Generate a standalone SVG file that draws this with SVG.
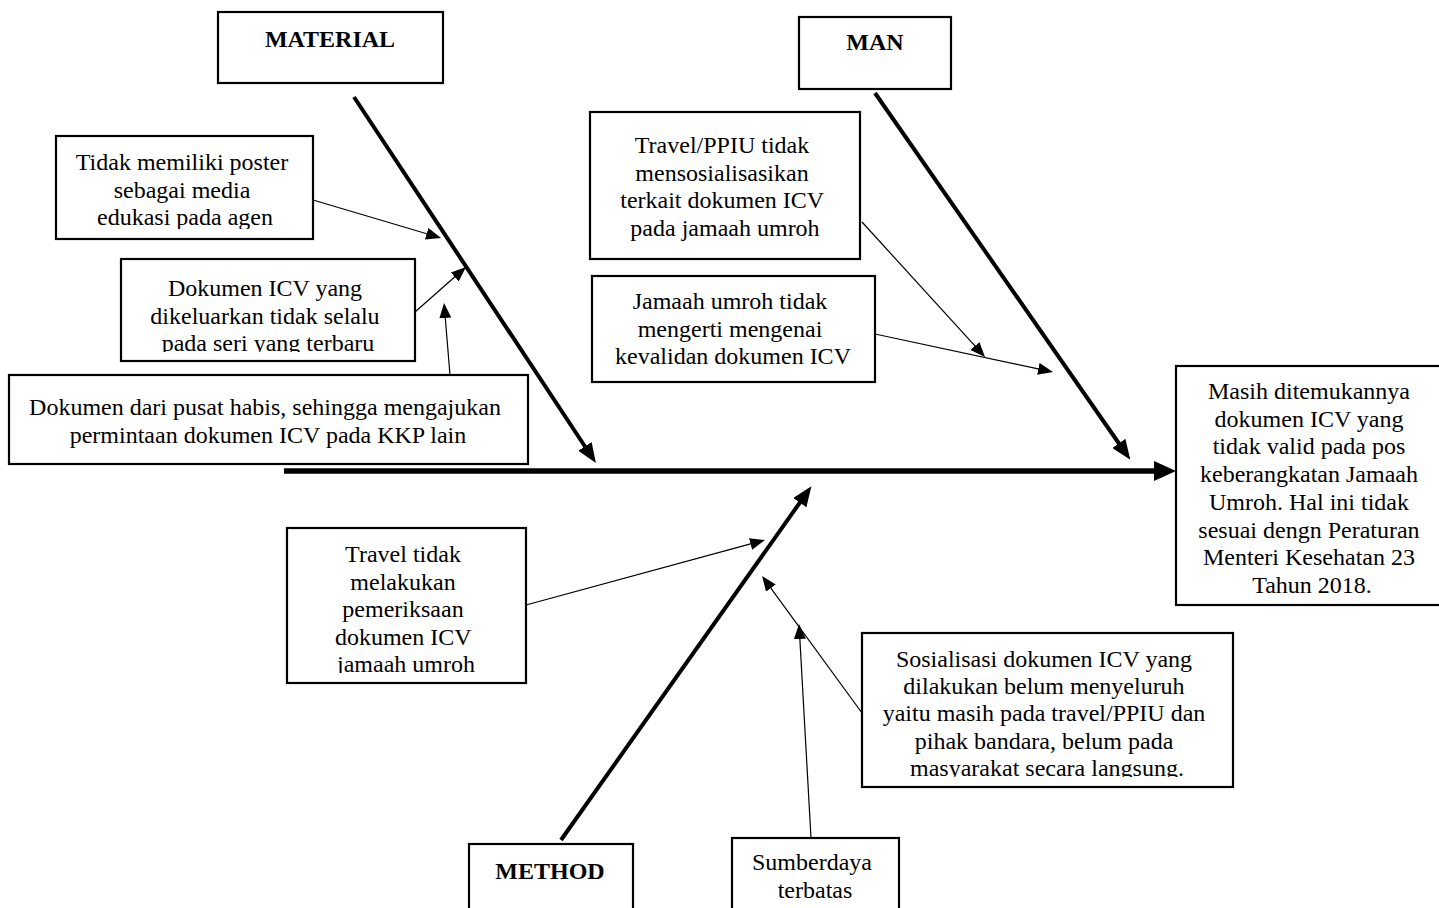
<svg xmlns="http://www.w3.org/2000/svg" width="1439" height="908" viewBox="0 0 1439 908">
  <style>
    .box { fill: #ffffff; stroke: #000000; stroke-width: 2.2; }
    .txt { font-family: "Liberation Serif", "Times New Roman", serif; font-size: 24px; fill: #000000; text-anchor: middle; }
    .head { font-weight: bold; }
    .bone { stroke: #000000; stroke-width: 4; fill: none; marker-end: url(#headBold); }
    .spine { stroke: #000000; stroke-width: 5.5; fill: none; marker-end: url(#headSpine); }
    .cause { stroke: #000000; stroke-width: 1.2; fill: none; marker-end: url(#headThin); }
  </style>
  <defs>
    <marker id="headBold" markerUnits="userSpaceOnUse" viewBox="0 0 20 16" markerWidth="20" markerHeight="16" refX="2" refY="8" orient="auto">
      <path d="M0,0 L20,8 L0,16 z" fill="#000000"/>
    </marker>
    <marker id="headSpine" markerUnits="userSpaceOnUse" viewBox="0 0 22 20" markerWidth="22" markerHeight="20" refX="2" refY="10" orient="auto">
      <path d="M0,0 L22,10 L0,20 z" fill="#000000"/>
    </marker>
    <marker id="headThin" markerUnits="userSpaceOnUse" viewBox="0 0 15 12" markerWidth="15" markerHeight="12" refX="1" refY="6" orient="auto">
      <path d="M0,0 L15,6 L0,12 z" fill="#000000"/>
    </marker>
    <!-- text areas of the boxes whose last line is cut off by the box margin -->
    <clipPath id="clipPoster"><rect x="56" y="136" width="257" height="93"/></clipPath>
    <clipPath id="clipSeri"><rect x="121" y="259" width="294" height="93"/></clipPath>
    <clipPath id="clipTravel"><rect x="287" y="528" width="239" height="145"/></clipPath>
    <clipPath id="clipSosial"><rect x="862" y="633" width="371" height="144"/></clipPath>
  </defs>

  <!-- connectors: spine, category bones and cause arrows -->
  <g id="connectors">
    <line class="spine" x1="284" y1="471" x2="1156" y2="471"/>
    <line class="bone" x1="354" y1="97" x2="586" y2="448"/>
    <line class="bone" x1="875" y1="93" x2="1120" y2="445"/>
    <line class="bone" x1="561" y1="840" x2="801" y2="501"/>
    <line class="cause" x1="313" y1="200" x2="427.6" y2="234"/>
    <line class="cause" x1="415" y1="312" x2="455.5" y2="276.3"/>
    <line class="cause" x1="450" y1="375" x2="445.2" y2="317"/>
    <line class="cause" x1="862" y1="222" x2="975.6" y2="346.7"/>
    <line class="cause" x1="875" y1="334" x2="1039.3" y2="369.1"/>
    <line class="cause" x1="526" y1="605" x2="751.5" y2="543.7"/>
    <line class="cause" x1="862" y1="713" x2="770.3" y2="587.3"/>
    <line class="cause" x1="811" y1="838" x2="799.8" y2="638"/>
  </g>

  <g id="material">
    <rect class="box" x="218" y="12" width="225" height="71"/>
    <text class="txt head" x="330" y="47">MATERIAL</text>
  </g>

  <g id="man">
    <rect class="box" x="799" y="17" width="152" height="72"/>
    <text class="txt head" x="875" y="50">MAN</text>
  </g>

  <g id="method">
    <rect class="box" x="469" y="844" width="164" height="80"/>
    <text class="txt head" x="550" y="879">METHOD</text>
  </g>

  <g id="cause-poster">
    <rect class="box" x="56" y="136" width="257" height="103"/>
    <text class="txt" clip-path="url(#clipPoster)">
      <tspan x="185" y="170">Tidak memiliki poster</tspan>
      <tspan x="185" dy="27.6">sebagai media</tspan>
      <tspan x="185" dy="27.6">edukasi pada agen</tspan>
    </text>
  </g>

  <g id="cause-seri">
    <rect class="box" x="121" y="259" width="294" height="102"/>
    <text class="txt" clip-path="url(#clipSeri)">
      <tspan x="268" y="296">Dokumen ICV yang</tspan>
      <tspan x="268" dy="27.6">dikeluarkan tidak selalu</tspan>
      <tspan x="268" dy="27.6">pada seri yang terbaru</tspan>
    </text>
  </g>

  <g id="cause-pusat">
    <rect class="box" x="9" y="375" width="519" height="89"/>
    <text class="txt">
      <tspan x="268" y="415">Dokumen dari pusat habis, sehingga mengajukan</tspan>
      <tspan x="268" dy="27.6">permintaan dokumen ICV pada KKP lain</tspan>
    </text>
  </g>

  <g id="cause-ppiu">
    <rect class="box" x="590" y="112" width="270" height="147"/>
    <text class="txt">
      <tspan x="725" y="153">Travel/PPIU tidak</tspan>
      <tspan x="725" dy="27.6">mensosialisasikan</tspan>
      <tspan x="725" dy="27.6">terkait dokumen ICV</tspan>
      <tspan x="725" dy="27.6">pada jamaah umroh</tspan>
    </text>
  </g>

  <g id="cause-jamaah">
    <rect class="box" x="592" y="276" width="283" height="106"/>
    <text class="txt">
      <tspan x="733" y="309">Jamaah umroh tidak</tspan>
      <tspan x="733" dy="27.6">mengerti mengenai</tspan>
      <tspan x="733" dy="27.6">kevalidan dokumen ICV</tspan>
    </text>
  </g>

  <g id="cause-pemeriksaan">
    <rect class="box" x="287" y="528" width="239" height="155"/>
    <text class="txt" clip-path="url(#clipTravel)">
      <tspan x="406" y="562">Travel tidak</tspan>
      <tspan x="406" dy="27.6">melakukan</tspan>
      <tspan x="406" dy="27.6">pemeriksaan</tspan>
      <tspan x="406" dy="27.6">dokumen ICV</tspan>
      <tspan x="406" dy="27.6">jamaah umroh</tspan>
    </text>
  </g>

  <g id="cause-sosialisasi">
    <rect class="box" x="862" y="633" width="371" height="154"/>
    <text class="txt" clip-path="url(#clipSosial)">
      <tspan x="1047" y="667">Sosialisasi dokumen ICV yang</tspan>
      <tspan x="1047" dy="27.2">dilakukan belum menyeluruh</tspan>
      <tspan x="1047" dy="27.2">yaitu masih pada travel/PPIU dan</tspan>
      <tspan x="1047" dy="27.2">pihak bandara, belum pada</tspan>
      <tspan x="1047" dy="27.2">masyarakat secara langsung.</tspan>
    </text>
  </g>

  <g id="cause-sumberdaya">
    <rect class="box" x="732" y="838" width="167" height="86"/>
    <text class="txt">
      <tspan x="815" y="870">Sumberdaya</tspan>
      <tspan x="815" dy="27.6">terbatas</tspan>
    </text>
  </g>

  <g id="effect">
    <rect class="box" x="1176" y="366" width="270" height="239"/>
    <text class="txt">
      <tspan x="1312" y="399">Masih ditemukannya</tspan>
      <tspan x="1312" dy="27.7">dokumen ICV yang</tspan>
      <tspan x="1312" dy="27.7">tidak valid pada pos</tspan>
      <tspan x="1312" dy="27.7">keberangkatan Jamaah</tspan>
      <tspan x="1312" dy="27.7">Umroh. Hal ini tidak</tspan>
      <tspan x="1312" dy="27.7">sesuai dengn Peraturan</tspan>
      <tspan x="1312" dy="27.7">Menteri Kesehatan 23</tspan>
      <tspan x="1312" dy="27.7">Tahun 2018.</tspan>
    </text>
  </g>
</svg>
